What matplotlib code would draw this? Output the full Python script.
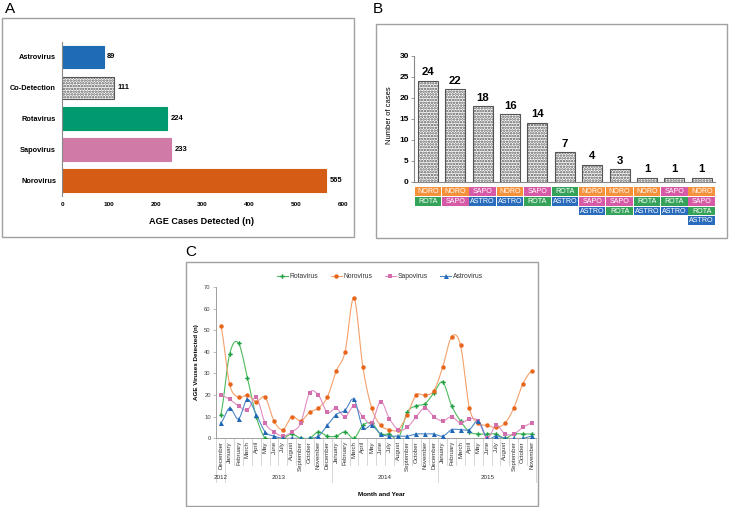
import numpy as np
import matplotlib
matplotlib.use('Agg')
import matplotlib.pyplot as plt
from matplotlib.patches import Rectangle
from matplotlib.lines import Line2D
import matplotlib.transforms as mtransforms

plt.rcParams['font.family'] = ['Liberation Sans', 'DejaVu Sans']
plt.rcParams['hatch.linewidth'] = 1.2

# ---------------- data ----------------
a_categories = ['Norovirus', 'Sapovirus', 'Rotavirus', 'Co-Detection', 'Astrovirus']
a_values = [565, 233, 224, 111, 89]
a_colors = ['#d55c15', '#d07aa8', '#009a6e', 'white', '#1f6cb5']

b_values = [24, 22, 18, 16, 14, 7, 4, 3, 1, 1, 1]
b_combos = [
    ['NORO', 'ROTA'],
    ['NORO', 'SAPO'],
    ['SAPO', 'ASTRO'],
    ['NORO', 'ASTRO'],
    ['SAPO', 'ROTA'],
    ['ROTA', 'ASTRO'],
    ['NORO', 'SAPO', 'ASTRO'],
    ['NORO', 'SAPO', 'ROTA'],
    ['NORO', 'ROTA', 'ASTRO'],
    ['SAPO', 'ROTA', 'ASTRO'],
    ['NORO', 'SAPO', 'ROTA', 'ASTRO'],
]
b_tag_colors = {'NORO': '#f5913a', 'SAPO': '#d65aa6', 'ROTA': '#35a25a', 'ASTRO': '#2a6cbc'}

month_names = ['January', 'February', 'March', 'April', 'May', 'June', 'July',
               'August', 'September', 'October', 'November', 'December']
years = ['2012', '2013', '2014', '2015']
year_counts = [1, 12, 12, 11]
months = ['December'] + month_names + month_names + month_names[:11]

rota = [11, 39, 44, 28, 10, 0, 0, 0, 2, 0, 0, 3, 1,
        1, 3, 0, 6, 7, 2, 2, 0, 12, 15, 16, 21,
        26, 15, 8, 3, 2, 2, 2, 0, 2, 2, 2]
noro = [52, 25, 19, 20, 17, 19, 8, 4, 10, 8, 12, 14, 19,
        31, 40, 65, 33, 14, 6, 4, 4, 11, 20, 20, 22,
        33, 47, 43, 14, 7, 6, 5, 7, 14, 25, 31]
sapo = [20, 18, 15, 13, 19, 7, 3, 1, 3, 7, 21, 20, 12,
        14, 10, 15, 10, 7, 17, 9, 4, 5, 10, 14, 10,
        8, 10, 7, 9, 8, 0, 6, 2, 2, 5, 7]
astro = [7, 14, 9, 18, 11, 3, 1, 0, 0, 0, 0, 1, 6,
         11, 13, 18, 5, 6, 2, 1, 1, 1, 2, 2, 2,
         1, 4, 4, 4, 8, 0, 1, 0, 0, 0, 1]

# ---------------- figure ----------------
W, H = 729, 507
fig = plt.figure(figsize=(W / 100, H / 100), dpi=100)


def ax_px(l, t, r, b):
    return fig.add_axes([l / W, 1 - b / H, (r - l) / W, (b - t) / H])


def box_px(l, t, r, b):
    fig.add_artist(Rectangle((l / W, 1 - b / H), (r - l) / W, (b - t) / H,
                             transform=fig.transFigure, fill=False,
                             edgecolor='#a0a0a0', lw=1.0))


def ftext(x, y, s, **kw):
    fig.text(x / W, 1 - y / H, s, **kw)


# ---------------- Panel A ----------------
box_px(2, 18, 354, 237)
ftext(5, 9, 'A', fontsize=11, ha='left', va='center')
axA = ax_px(62.3, 41.5, 342.7, 196)
ypos = np.arange(len(a_categories))
for i, (v, c) in enumerate(zip(a_values, a_colors)):
    if c == 'white':
        axA.barh(i, v, height=0.73, color='white', edgecolor='#555555',
                 hatch='......', lw=0.8)
    else:
        axA.barh(i, v, height=0.73, color=c, edgecolor=c, lw=0.8)
    axA.text(v + 7, i, str(v), va='center', ha='left', fontsize=5.4,
             fontweight='bold')
axA.set_xlim(0, 600)
axA.set_ylim(-0.5, 4.5)
axA.set_yticks(ypos)
axA.set_yticklabels(a_categories, fontsize=5.3, fontweight='bold')
axA.set_xticks(range(0, 601, 100))
axA.set_xticklabels([str(t) for t in range(0, 601, 100)], fontsize=4.6,
                    fontweight='bold')
axA.tick_params(axis='both', length=0)
axA.tick_params(axis='y', pad=4.5)
axA.tick_params(axis='x', pad=4)
for s in ['top', 'right', 'bottom']:
    axA.spines[s].set_visible(False)
axA.spines['left'].set_color('#888888')
axA.spines['left'].set_linewidth(0.8)
ftext(201.3, 221, 'AGE Cases Detected (n)', fontsize=6.6, fontweight='bold',
      ha='center', va='center')

# ---------------- Panel B ----------------
box_px(375.7, 24, 727, 237.7)
ftext(373, 9, 'B', fontsize=11, ha='left', va='center')
axB = ax_px(414.3, 55.7, 715.4, 181.7)
xb = np.arange(len(b_values))
axB.bar(xb, b_values, width=0.73, color='white', edgecolor='#555555',
        hatch='......', lw=0.8)
for i, v in enumerate(b_values):
    axB.annotate(str(v), (i, v), xytext=(0, 2.5), textcoords='offset points',
                 ha='center', va='bottom', fontsize=8.2, fontweight='bold')
axB.set_xlim(-0.5, 10.5)
axB.set_ylim(0, 30)
axB.set_yticks(range(0, 31, 5))
axB.set_yticklabels([str(t) for t in range(0, 31, 5)], fontsize=6,
                    fontweight='bold')
axB.set_xticks([])
axB.tick_params(axis='y', length=2, width=0.6, color='#888888', pad=2)
for s in ['top', 'right']:
    axB.spines[s].set_visible(False)
for s in ['left', 'bottom']:
    axB.spines[s].set_color('#888888')
    axB.spines[s].set_linewidth(0.8)
ftext(389, 115, 'Number of cases', fontsize=5.5, rotation=90,
      ha='center', va='center')

axT = ax_px(414.3, 186.9, 715.4, 225.5)
axT.set_xlim(-0.5, 10.5)
axT.set_ylim(4, 0)
axT.axis('off')
for i, combo in enumerate(b_combos):
    for j, tag in enumerate(combo):
        axT.add_patch(Rectangle((i - 0.485, j + 0.04), 0.97, 0.92,
                                color=b_tag_colors[tag], lw=0))
        axT.text(i, j + 0.52, tag, ha='center', va='center', color='white',
                 fontsize=5.1)

# ---------------- Panel C ----------------
box_px(185.7, 261.7, 538.3, 506)
ftext(185, 252, 'C', fontsize=11, ha='left', va='center')
axC = ax_px(216.3, 287, 536, 438.3)


def smooth(y, n=14):
    y = np.asarray(y, float)
    yp = np.concatenate([[y[0]], y, [y[-1]]])
    xs, ys = [], []
    t = np.linspace(0, 1, n, endpoint=False)
    h00 = 2 * t**3 - 3 * t**2 + 1
    h10 = t**3 - 2 * t**2 + t
    h01 = -2 * t**3 + 3 * t**2
    h11 = t**3 - t**2
    for i in range(len(y) - 1):
        p0, p1, p2, p3 = yp[i], yp[i + 1], yp[i + 2], yp[i + 3]
        m1 = (p2 - p0) / 2
        m2 = (p3 - p1) / 2
        xs.append(i + t)
        ys.append(h00 * p1 + h10 * m1 + h01 * p2 + h11 * m2)
    xs.append([len(y) - 1])
    ys.append([y[-1]])
    return np.concatenate(xs), np.concatenate(ys)


xc = np.arange(len(months))
series = [
    ('Rotavirus', rota, '#4cba5c', '#1e9e40', 'P', 3.2),
    ('Norovirus', noro, '#f5a06a', '#e8651c', 'o', 3.2),
    ('Sapovirus', sapo, '#e08ec2', '#d46fae', 's', 3.0),
    ('Astrovirus', astro, '#4d88c9', '#1f66b5', '^', 3.6),
]
handles = []
for name, vals, lc, mc, mk, ms in series:
    sx, sy = smooth(vals)
    axC.plot(sx, sy, color=lc, lw=0.8, zorder=2)
    axC.plot(xc, vals, ls='none', marker=mk, ms=ms, color=mc,
             markeredgewidth=0, zorder=3)
    handles.append(Line2D([0], [0], color=lc, lw=0.8, marker=mk, ms=ms,
                          markerfacecolor=mc, markeredgewidth=0, label=name))
axC.set_xlim(-0.5, len(months) - 0.5)
axC.set_ylim(0, 70)
axC.set_yticks(range(0, 71, 10))
axC.set_yticklabels([str(t) for t in range(0, 71, 10)], fontsize=4.2,
                    color='#444444')
axC.tick_params(axis='y', length=2, width=0.5, color='#a0a0a0', pad=2)
axC.set_xticks(xc)
axC.set_xticklabels(months, rotation=90, fontsize=4.4, color='#333333')
axC.tick_params(axis='x', length=0, pad=2)
for s in ['top', 'right']:
    axC.spines[s].set_visible(False)
for s in ['left', 'bottom']:
    axC.spines[s].set_color('#a0a0a0')
    axC.spines[s].set_linewidth(0.7)

trans = mtransforms.blended_transform_factory(axC.transData, axC.transAxes)
ax_h = 438.3 - 287
month_depth = -(465 - 438.3) / ax_h
year_depth = -(482 - 438.3) / ax_h
year_bounds = np.concatenate([[0], np.cumsum(year_counts)]) - 0.5
for bnd in np.arange(-0.5, len(months), 1.0):
    depth = year_depth if np.any(np.isclose(year_bounds, bnd)) else month_depth
    axC.plot([bnd, bnd], [0, depth], transform=trans, color='#d0d0d0',
             lw=0.6, clip_on=False)
for k, yr in enumerate(years):
    center = (year_bounds[k] + year_bounds[k + 1]) / 2
    axC.text(center, -(477.5 - 438.3) / ax_h, yr, transform=trans,
             ha='center', va='center', fontsize=4.5, color='#333333')

ftext(382, 495, 'Month and Year', fontsize=4.6, fontweight='bold',
      ha='center', va='center')
ftext(197, 362, 'AGE Viruses Detected (n)', fontsize=4.5, fontweight='bold',
      rotation=90, ha='center', va='center')

fig.legend(handles=handles, loc='center', bbox_to_anchor=(380 / W, 1 - 277 / H),
           ncol=4, frameon=False, fontsize=4.9, handlelength=1.6,
           columnspacing=1.8, handletextpad=0.3, labelcolor='#333333')

fig.savefig('out.png', dpi=100)
